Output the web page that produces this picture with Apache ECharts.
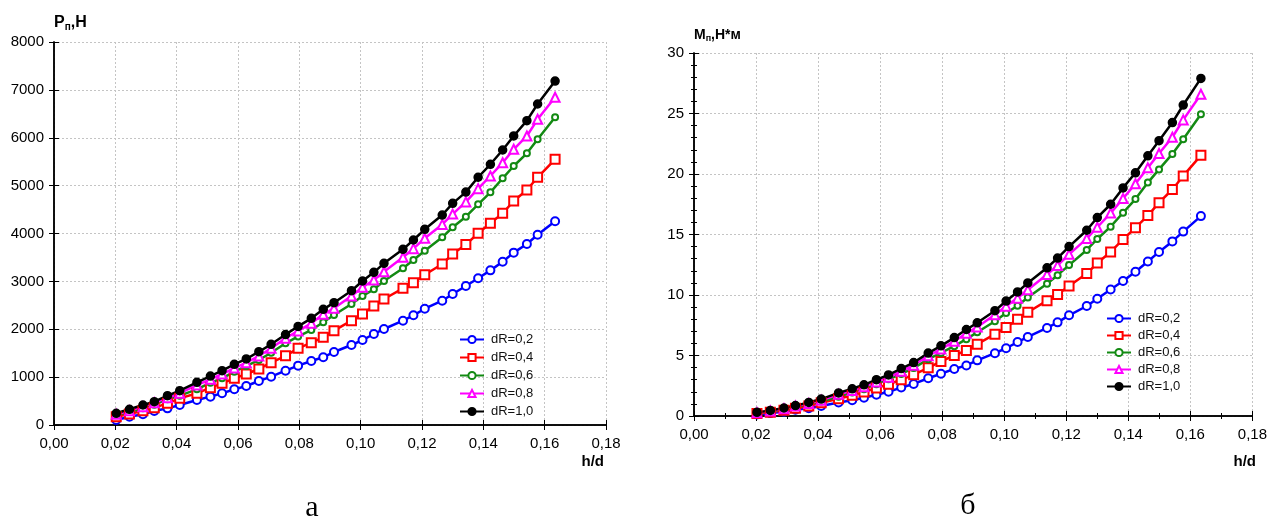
<!DOCTYPE html>
<html>
<head>
<meta charset="utf-8">
<script src="https://cdn.jsdelivr.net/npm/echarts@6/dist/echarts.min.js"></script>
<style>
    html, body {margin: 0; padding: 0; background: #fff;}
    #main {width: 1270px; height: 517px;}
</style>
</head>
<body>
<div id="main"></div>
<script>
// h/d values (same for both charts)
const hd = [0.0203, 0.0246, 0.029, 0.0327, 0.037, 0.041, 0.0466, 0.051, 0.0548, 0.0588,
    0.0627, 0.0668, 0.0708, 0.0755, 0.0796, 0.0839, 0.0878, 0.0913, 0.097, 0.1006,
    0.1043, 0.1076, 0.1138, 0.1172, 0.1209, 0.1266, 0.13, 0.1343, 0.1383, 0.1423,
    0.1463, 0.1499, 0.1542, 0.1577, 0.1634];

const names = ['dR=0,2', 'dR=0,4', 'dR=0,6', 'dR=0,8', 'dR=1,0'];

// а) Pп, Н
const p02 = [104, 174, 223, 292, 348, 418, 522, 592, 662, 745, 815, 919, 1009, 1134, 1240, 1337, 1414, 1525, 1671, 1775,
    1901, 2005, 2179, 2291, 2429, 2596, 2736, 2903, 3064, 3230, 3410, 3600, 3781, 3975, 4255];
const p04 = [174, 230, 299, 362, 453, 557, 662, 780, 871, 975, 1065, 1170, 1301, 1445, 1602, 1719, 1831, 1970, 2179, 2319,
    2486, 2632, 2855, 2972, 3139, 3363, 3572, 3770, 4004, 4213, 4422, 4679, 4909, 5174, 5550];
const p06 = [209, 278, 348, 425, 537, 612, 745, 884, 975, 1113, 1232, 1358, 1510, 1706, 1850, 1984, 2145, 2298, 2527, 2695,
    2834, 3008, 3273, 3447, 3641, 3921, 4130, 4351, 4610, 4860, 5153, 5410, 5675, 5967, 6427];
const p08 = [223, 299, 383, 466, 570, 662, 836, 955, 1065, 1190, 1301, 1441, 1602, 1811, 1966, 2124, 2312, 2437, 2695, 2876,
    3029, 3202, 3503, 3683, 3900, 4190, 4405, 4660, 4937, 5201, 5479, 5759, 6037, 6385, 6845];
const p10 = [244, 328, 418, 487, 612, 716, 892, 1023, 1134, 1268, 1379, 1531, 1685, 1890, 2060, 2228, 2416, 2555, 2805, 3008,
    3189, 3377, 3669, 3864, 4087, 4386, 4630, 4865, 5175, 5446, 5744, 6037, 6357, 6705, 7185];

// б) Mп, Н*м
const m02 = [0.13, 0.24, 0.35, 0.52, 0.64, 0.82, 1.12, 1.30, 1.51, 1.76, 2.0, 2.35, 2.65, 3.12, 3.49, 3.89, 4.18, 4.6, 5.19, 5.6,
    6.11, 6.53, 7.28, 7.74, 8.32, 9.09, 9.69, 10.45, 11.16, 11.92, 12.77, 13.56, 14.43, 15.24, 16.52];
const m04 = [0.21, 0.32, 0.47, 0.64, 0.83, 1.09, 1.42, 1.71, 1.98, 2.31, 2.62, 3.0, 3.41, 3.98, 4.51, 5.0, 5.42, 5.94, 6.76, 7.32,
    8.0, 8.57, 9.53, 10.04, 10.75, 11.77, 12.64, 13.56, 14.59, 15.56, 16.56, 17.63, 18.72, 19.84, 21.54];
const m06 = [0.26, 0.39, 0.55, 0.75, 0.98, 1.2, 1.6, 1.94, 2.22, 2.63, 3.03, 3.48, 3.96, 4.7, 5.21, 5.77, 6.35, 6.92, 7.83, 8.51,
    9.11, 9.8, 10.93, 11.64, 12.47, 13.72, 14.63, 15.65, 16.8, 17.93, 19.29, 20.38, 21.66, 22.87, 24.94];
const m08 = [0.27, 0.42, 0.6, 0.82, 1.04, 1.3, 1.79, 2.1, 2.42, 2.82, 3.2, 3.69, 4.2, 4.98, 5.53, 6.18, 6.84, 7.35, 8.36, 9.08,
    9.74, 10.43, 11.7, 12.44, 13.36, 14.66, 15.6, 16.77, 17.98, 19.2, 20.51, 21.7, 23.04, 24.47, 26.59];
const m10 = [0.30, 0.46, 0.66, 0.86, 1.12, 1.40, 1.91, 2.25, 2.58, 3.00, 3.39, 3.92, 4.42, 5.2, 5.8, 6.48, 7.15, 7.7, 8.7, 9.5,
    10.25, 11.0, 12.25, 13.05, 14.0, 15.35, 16.4, 17.5, 18.85, 20.1, 21.5, 22.75, 24.25, 25.7, 27.9];

const font = 'Liberation Sans, Arial, sans-serif';

const styles = [
    {color: '#0000ff', symbol: 'emptyCircle', size: 8},
    {color: '#ff0000', symbol: 'emptyRect', size: 9},
    {color: '#138a13', symbol: 'emptyCircle', size: 6},
    {color: '#ff00ff', symbol: 'emptyTriangle', size: 9},
    {color: '#000000', symbol: 'circle', size: 8}
];

const comma = v => v.toFixed(2).replace('.', ',');

function xAxes(grid, minor) {
    return [{
        type: 'value', gridIndex: grid, min: 0, max: 0.18, interval: 0.02,
        axisLine: {lineStyle: {color: '#000', width: 1.5}},
        axisTick: {inside: true, length: 5, lineStyle: {color: '#000'}},
        minorTick: {show: minor, splitNumber: 2, length: 3, lineStyle: {color: '#000'}},
        axisLabel: {formatter: comma, color: '#000', fontSize: 15, fontFamily: font, margin: 11},
        splitLine: {show: true, lineStyle: {color: '#c4c4c4', type: [2, 2]}}
    }, {
        type: 'value', gridIndex: grid, position: 'top', min: 0, max: 0.18, interval: 0.02,
        axisLine: {lineStyle: {color: '#000', width: 1.5}},
        axisTick: {inside: true, length: 5, lineStyle: {color: '#000'}},
        minorTick: {show: minor, splitNumber: 2, length: 3, lineStyle: {color: '#000'}},
        axisLabel: {show: false},
        splitLine: {show: false}
    }];
}

function yAxes(grid, max, interval, minor) {
    return [{
        type: 'value', gridIndex: grid, min: 0, max: max, interval: interval,
        axisLine: {show: true, lineStyle: {color: '#000', width: 1.5}},
        axisTick: {show: true, inside: true, length: 5, lineStyle: {color: '#000'}},
        minorTick: {show: minor, splitNumber: 5, length: 3, lineStyle: {color: '#000'}},
        axisLabel: {formatter: v => String(v), color: '#000', fontSize: 15, fontFamily: font, margin: 10},
        splitLine: {show: true, lineStyle: {color: '#c4c4c4', type: [2, 2]}}
    }, {
        type: 'value', gridIndex: grid, position: 'right', min: 0, max: max, interval: interval,
        axisLine: {show: true, lineStyle: {color: '#000', width: 1.5}},
        axisTick: {show: true, inside: true, length: 5, lineStyle: {color: '#000'}},
        minorTick: {show: minor, splitNumber: 5, length: 3, lineStyle: {color: '#000'}},
        axisLabel: {show: false},
        splitLine: {show: false}
    }];
}

function makeSeries(list, xi, yi) {
    return list.map((arr, k) => ({
        name: names[k],
        type: 'line',
        xAxisIndex: xi,
        yAxisIndex: yi,
        data: hd.map((x, i) => [x, arr[i]]),
        symbol: styles[k].symbol,
        symbolSize: styles[k].size,
        lineStyle: {color: styles[k].color, width: 2.5},
        itemStyle: {color: styles[k].color, borderColor: styles[k].color, borderWidth: 1.5},
        emphasis: {disabled: true}
    }));
}

function legend(left, top, gap) {
    return {
        left: left, top: top, orient: 'vertical', padding: 0,
        itemWidth: 24, itemHeight: 9, itemGap: gap,
        data: names,
        textStyle: {color: '#111', fontSize: 13, fontFamily: font, padding: [0, 0, 0, 2]}
    };
}

const myChart = echarts.init(document.getElementById('main'));
myChart.setOption({
    animation: false,
    title: [{
        text: '{b|P}{s|п}{b|,Н}',
        left: 54, top: 14, padding: 0,
        textStyle: {
            rich: {
                b: {fontSize: 16, fontWeight: 'bold', fontFamily: font, color: '#000', lineHeight: 18},
                s: {fontSize: 10, fontWeight: 'bold', fontFamily: font, color: '#000', lineHeight: 10, verticalAlign: 'bottom'}
            }
        }
    }, {
        text: '{b|M}{s|п}{b|,Н*м}',
        left: 694, top: 27, padding: 0,
        textStyle: {
            rich: {
                b: {fontSize: 14, fontWeight: 'bold', fontFamily: font, color: '#000', lineHeight: 16},
                s: {fontSize: 9, fontWeight: 'bold', fontFamily: font, color: '#000', lineHeight: 9, verticalAlign: 'bottom'}
            }
        }
    }],
    legend: [legend(459, 333, 5), legend(1106, 312, 4)],
    grid: [
        {left: 54, top: 42, width: 552, height: 383},
        {left: 694, top: 53, width: 562, height: 363}
    ],
    xAxis: [...xAxes(0, false), ...xAxes(1, true)],
    yAxis: [...yAxes(0, 8000, 1000, false), ...yAxes(1, 30, 5, true)],
    graphic: [
        {type: 'text', x: 604, y: 462, style: {text: 'h/d', font: 'bold 15px ' + font, fill: '#000', align: 'right', verticalAlign: 'middle'}},
        {type: 'text', x: 1256, y: 462, style: {text: 'h/d', font: 'bold 15px ' + font, fill: '#000', align: 'right', verticalAlign: 'middle'}},
        {type: 'text', x: 312, y: 508, style: {text: 'а', font: '30px Liberation Serif, Times New Roman, serif', fill: '#000', align: 'center', verticalAlign: 'middle'}},
        {type: 'text', x: 968, y: 506, style: {text: 'б', font: '30px Liberation Serif, Times New Roman, serif', fill: '#000', align: 'center', verticalAlign: 'middle'}}
    ],
    series: [
        ...makeSeries([p02, p04, p06, p08, p10], 0, 0),
        ...makeSeries([m02, m04, m06, m08, m10], 2, 2)
    ]
});
</script>
</body>
</html>
